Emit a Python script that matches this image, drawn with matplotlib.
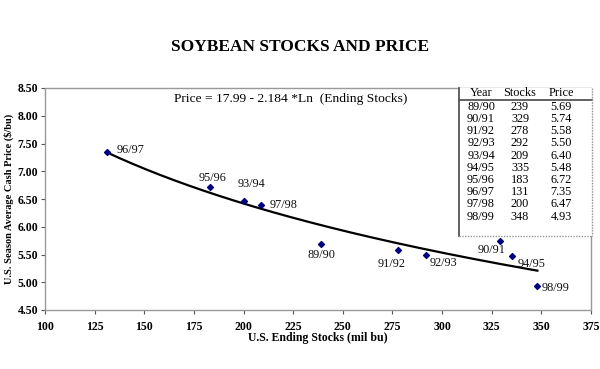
import numpy as np
import matplotlib
matplotlib.use("Agg")
import matplotlib.pyplot as plt
from matplotlib.lines import Line2D

years = ["89/90", "90/91", "91/92", "92/93", "93/94", "94/95", "95/96", "96/97", "97/98", "98/99"]
stocks = [239, 329, 278, 292, 209, 335, 183, 131, 200, 348]
prices = [5.69, 5.74, 5.58, 5.50, 6.40, 5.48, 6.72, 7.35, 6.47, 4.93]
price_labels = ["5.69", "5.74", "5.58", "5.50", "6.40", "5.48", "6.72", "7.35", "6.47", "4.93"]
# labels as they appear next to the points in the chart (93/94 and 97/98 are swapped there)
point_labels = ["89/90", "90/91", "91/92", "92/93", "97/98", "94/95", "95/96", "96/97", "93/94", "98/99"]
coef_a, coef_b = 17.99, 2.184
x_ticks = [100, 125, 150, 175, 200, 225, 250, 275, 300, 325, 350, 375]
y_ticks = [4.50, 5.00, 5.50, 6.00, 6.50, 7.00, 7.50, 8.00, 8.50]

serif = "Liberation Serif"
W, H = 600, 369
fig = plt.figure(figsize=(6, 3.69), dpi=100)
ax = fig.add_axes([45 / W, 1 - 310 / H, (591 - 45) / W, (310 - 88) / H])

# fitted curve
xs = np.linspace(min(stocks), max(stocks), 200)
ax.plot(xs, coef_a - coef_b * np.log(xs), color="black", lw=1.6, zorder=2)
ax.scatter(stocks, prices, marker="D", s=9, color="#000080", zorder=3)

# point label offsets (pixels): dx, dy, ha
offsets = {
    "89/90": (0, -11, "center"),
    "90/91": (-8, -9, "center"),
    "91/92": (-7, -14, "center"),
    "92/93": (3, -9, "left"),
    "93/94": (8, 17, "center"),
    "94/95": (6, -8, "left"),
    "95/96": (3, 9, "center"),
    "96/97": (10, 2, "left"),
    "97/98": (8, 0, "left"),
    "98/99": (4, -2, "left"),
}
for lab, sx, py in zip(point_labels, stocks, prices):
    dx, dy, ha = offsets[lab]
    ax.annotate(lab, (sx, py), xytext=(dx, dy), textcoords="offset pixels",
                ha=ha, va="center", fontsize=8.8, family=serif, color="#111111")

ax.text(0.45, 0.95, "Price = 17.99 - 2.184 *Ln  (Ending Stocks)", transform=ax.transAxes,
        ha="center", va="center", fontsize=9.7, family=serif)

ax.set_xlim(100, 375)
ax.set_ylim(4.5, 8.5)
ax.set_xticks(x_ticks)
ax.set_yticks(y_ticks)
ax.set_xticklabels([str(v) for v in x_ticks])
ax.set_yticklabels([f"{v:.2f}" for v in y_ticks])
for lab in ax.get_xticklabels() + ax.get_yticklabels():
    lab.set_family(serif)
    lab.set_fontweight("bold")
    lab.set_fontsize(8.5)
ax.tick_params(axis="x", length=3, width=0.8, color="#555555", pad=5)
ax.tick_params(axis="y", length=3, width=0.8, color="#555555", pad=2)
for sp in ax.spines.values():
    sp.set_color("#999999")
    sp.set_linestyle((0, (1, 1)))
    sp.set_linewidth(1)

ax.set_xlabel("U.S. Ending Stocks (mil bu)", family=serif, fontweight="bold", fontsize=8.5, labelpad=-1)
ax.set_ylabel("U.S. Season Average Cash Price ($/bu)", family=serif, fontweight="bold", fontsize=7.5)
ax.yaxis.set_label_coords(-0.057, 0.5)

fig.text(0.5, 1 - 47 / H, "SOYBEAN STOCKS AND PRICE", ha="center", va="center",
         family=serif, fontweight="bold", fontsize=12.5)

# data table
def fx(x):
    return x / W

def fy(y):
    return 1 - y / H

tl, tr, tt, tb = 459, 592, 88, 236
fig.patches.append(plt.Rectangle((fx(tl), fy(tb)), fx(tr - tl), (tb - tt) / H, transform=fig.transFigure,
                                 facecolor="white", edgecolor="none", zorder=4))
fig.lines.append(Line2D([fx(tl), fx(tl)], [fy(tt), fy(tb)], transform=fig.transFigure, color="#555555", lw=1.3, zorder=5))
fig.lines.append(Line2D([fx(tl), fx(tr)], [fy(99.5), fy(99.5)], transform=fig.transFigure, color="#555555", lw=1.3, zorder=5))
fig.lines.append(Line2D([fx(tl), fx(tr)], [fy(tb), fy(tb)], transform=fig.transFigure, color="#999999", lw=1,
                        ls=(0, (1, 1)), zorder=5))
fig.lines.append(Line2D([fx(tr), fx(tr)], [fy(tt), fy(tb)], transform=fig.transFigure, color="#999999", lw=1,
                        ls=(0, (1, 1)), zorder=5))

col_x = [481, 520, 561]
fs = 8.8
for txt, cx in zip(["Year", "Stocks", "Price"], col_x):
    fig.text(fx(cx), fy(93), txt, ha="center", va="center", family=serif, fontsize=fs, zorder=6)
for i, (yr, st, pl) in enumerate(zip(years, stocks, price_labels)):
    yy = 106.8 + i * 12.2
    for txt, cx in zip([yr, str(st), pl], col_x):
        fig.text(fx(cx), fy(yy), txt, ha="center", va="center", family=serif, fontsize=fs, zorder=6)

fig.savefig("out.png", dpi=100)
